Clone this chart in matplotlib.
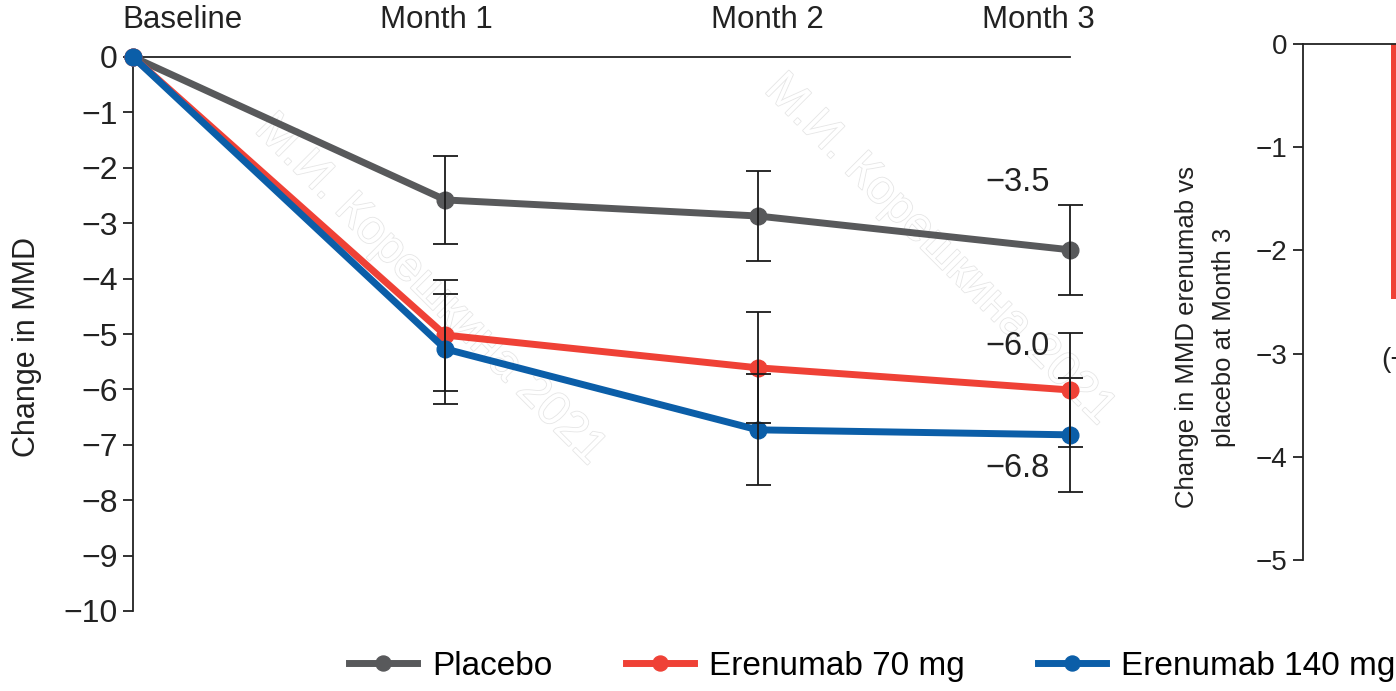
import matplotlib.pyplot as plt
import matplotlib.patheffects as pe

plt.rcParams['font.family'] = ['Liberation Sans', 'DejaVu Sans']

# data
timepoints = ['Baseline', 'Month 1', 'Month 2', 'Month 3']
placebo = [0, -2.58, -2.87, -3.48]
placebo_err = [0, 0.80, 0.81, 0.81]
e70 = [0, -5.02, -5.61, -6.01]
e70_err = [0, 1.0, 1.0, 1.03]
e140 = [0, -5.27, -6.73, -6.82]
e140_err = [0, 1.0, 1.0, 1.03]
end_labels = ['\u22123.5', '\u22126.0', '\u22126.8']
end_label_y = [-2.27, -5.23, -7.42]

# right panel: difference vs placebo at month 3
diff_groups = ['Erenumab 70 mg', 'Erenumab 140 mg']
diff_vals = [-2.47, -3.3]
ci_label = '(\u2212'

grey = '#58595b'
red = '#ef4136'
blue = '#0b5ea8'
ink = '#222222'

W, H = 1396, 691
fig = plt.figure(figsize=(W / 100, H / 100), dpi=100)

# faint watermark, behind everything
for (x, y) in [(0.308, 0.58), (0.673, 0.638)]:
    fig.text(x, y, 'М.И. Корешкина 2021', rotation=-45, fontsize=34, color='white',
             ha='center', va='center', zorder=-1,
             path_effects=[pe.withStroke(linewidth=1.2, foreground='#e6e6e6')])

ax = fig.add_axes([133 / W, 1 - 611 / H, 937 / W, 554 / H])
ax.patch.set_alpha(0)
x = list(range(len(timepoints)))

series = [(placebo, placebo_err, grey, 'Placebo'),
          (e70, e70_err, red, 'Erenumab 70 mg'),
          (e140, e140_err, blue, 'Erenumab 140 mg')]
for vals, err, col, lab in series:
    ax.plot(x, vals, color=col, lw=5, marker='o', ms=12, label=lab, clip_on=False, zorder=3)
for vals, err, col, lab in series:
    ax.errorbar(x[1:], vals[1:], yerr=err[1:], fmt='none', ecolor='#1a1a1a',
                elinewidth=1.3, capsize=9, capthick=1.3, zorder=4, clip_on=False)

for lab, yy in zip(end_labels, end_label_y):
    ax.text(2.935, yy, lab, ha='right', va='center', fontsize=23.5, color=ink)

ax.set_xlim(0, 3)
ax.set_ylim(-10, 0)
ax.set_yticks(range(0, -11, -1))
ax.set_yticklabels(['0'] + ['\u2212%d' % i for i in range(1, 11)])
ax.xaxis.tick_top()
ax.set_xticks([0.16, 0.97, 2.03, 2.90])
ax.set_xticklabels(timepoints)
ax.tick_params(axis='x', length=0, pad=16, labelsize=22.5, colors=ink)
ax.tick_params(axis='y', length=7, width=1.3, pad=4, labelsize=23, colors=ink)
for s in ['bottom', 'right']:
    ax.spines[s].set_visible(False)
for s in ['top', 'left']:
    ax.spines[s].set_linewidth(1.3)
    ax.spines[s].set_color(ink)
ax.set_ylabel('Change in MMD', fontsize=22, color=ink)
ax.yaxis.set_label_coords(-0.097, 0.476)

# right panel (cut off at the edge in the original)
ax2 = fig.add_axes([1303 / W, 1 - 560 / H, 528 / W, 516 / H])
ax2.patch.set_alpha(0)
ax2.bar([1, 2], diff_vals, width=0.5, color=red, align='center')
ax2.annotate(ci_label, xy=(0.75, -3.06), xytext=(-7, 0), textcoords='offset points',
             ha='left', va='center', fontsize=20, color=ink)
ax2.set_xlim(0, 4.5)
ax2.set_ylim(-5, 0)
ax2.set_xticks([])
ax2.set_yticks(range(0, -6, -1))
ax2.set_yticklabels(['0'] + ['\u2212%d' % i for i in range(1, 6)])
ax2.tick_params(axis='y', length=7, width=1.3, pad=4, labelsize=20, colors=ink)
for s in ['bottom', 'right']:
    ax2.spines[s].set_visible(False)
for s in ['top', 'left']:
    ax2.spines[s].set_linewidth(1.3)
    ax2.spines[s].set_color(ink)
ax2.set_ylabel('Change in MMD erenumab vs\nplacebo at Month 3', fontsize=18.5,
               color=ink, linespacing=1.7)
ax2.yaxis.set_label_coords(-0.127, 0.432)

handles, labels = ax.get_legend_handles_labels()
fig.legend(handles, labels, loc='center', bbox_to_anchor=(0.6246, 0.036), ncol=3,
           frameon=False, fontsize=24, handlelength=2.04, columnspacing=2.2,
           handletextpad=0.45, markerscale=0.9)

fig.savefig('out.png', dpi=100)
